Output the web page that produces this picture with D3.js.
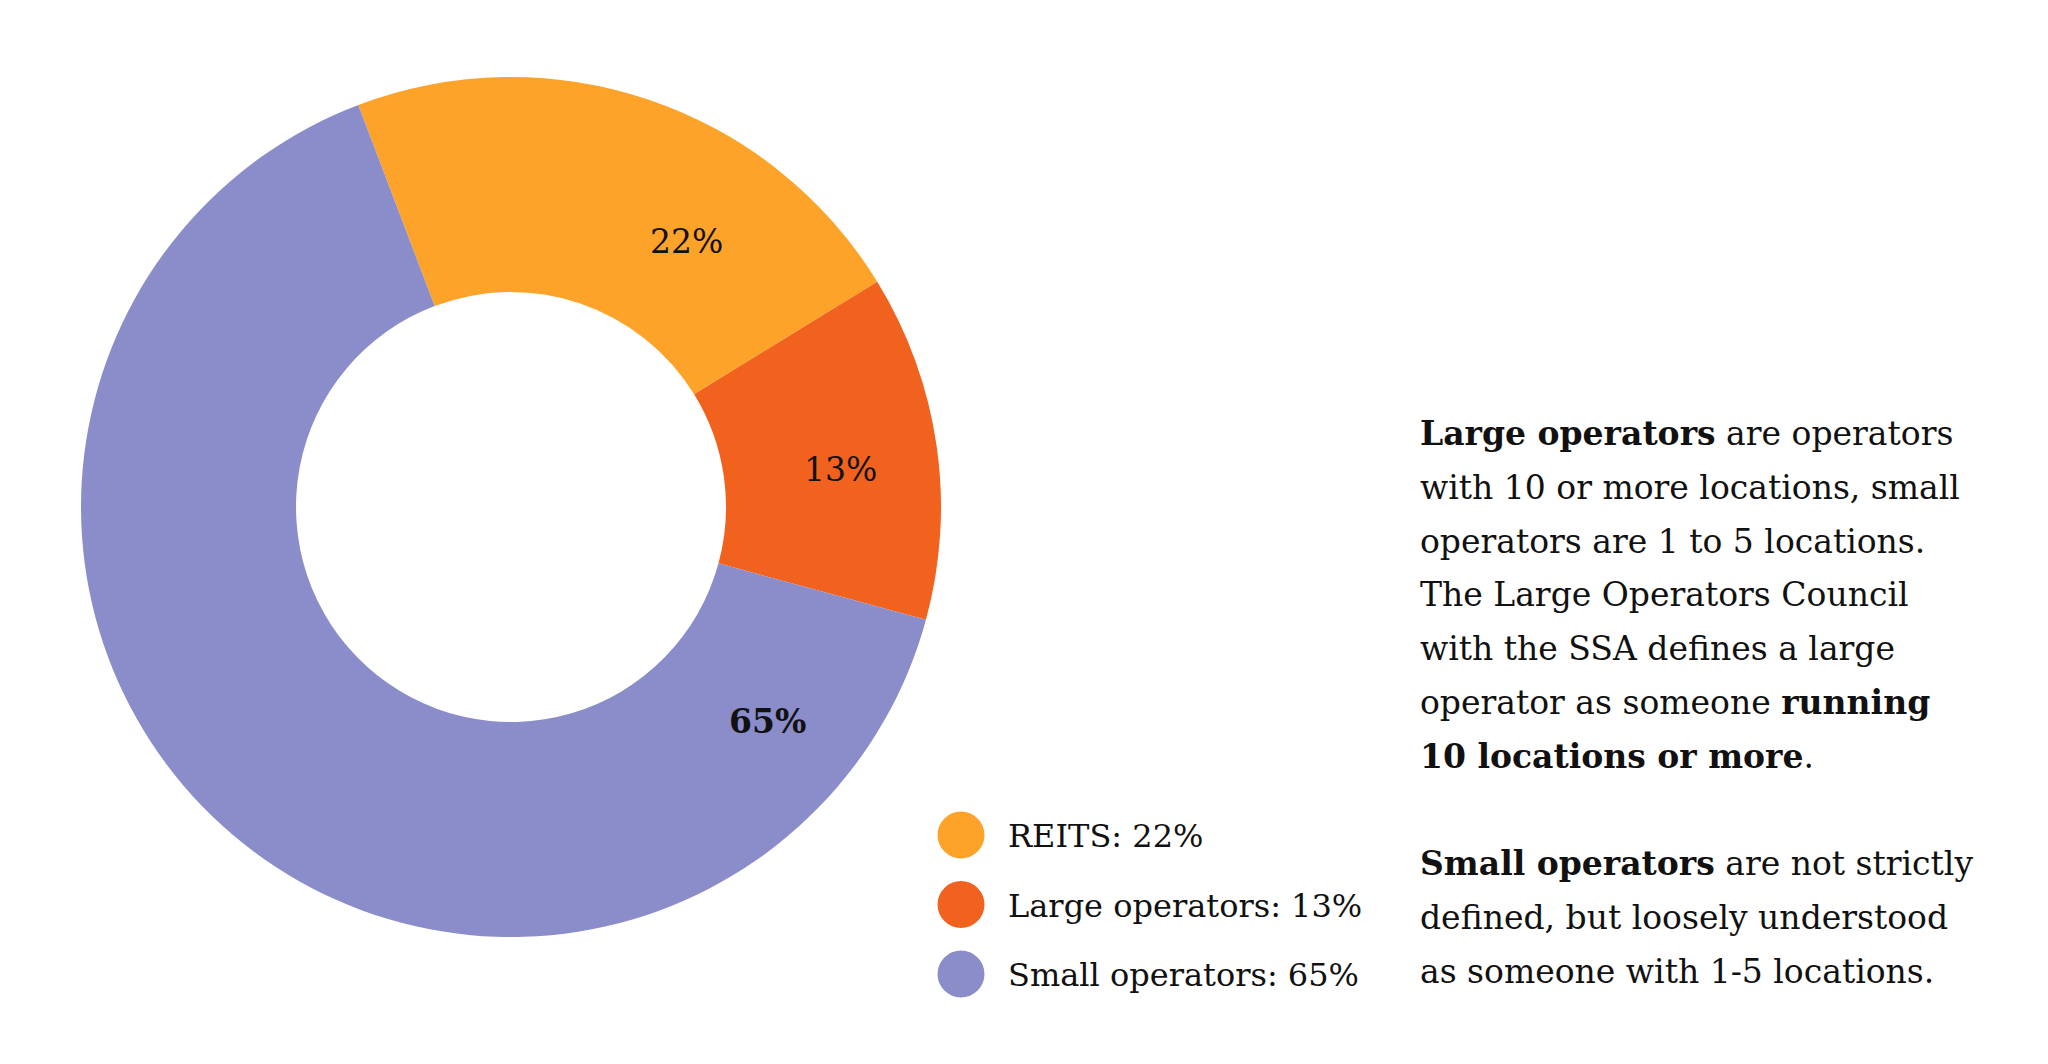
<!DOCTYPE html>
<html>
<head>
<meta charset="utf-8">
<script src="https://cdn.jsdelivr.net/npm/d3@7"></script>
<style>
  html, body { margin: 0; padding: 0; background: #fff; }
  svg { display: block; }
  text { font-family: "DejaVu Serif", "Liberation Serif", serif; fill: #111; }
</style>
</head>
<body>
<svg id="chart" width="2048" height="1064"></svg>
<script>
// ---- data ----
const categories = ["REITS", "Large operators", "Small operators"];
const shares = [22, 13, 65];
const colors = ["#FEA329", "#F1621E", "#8B8DCB"];
const boldLabel = [false, false, true];

// ---- layout ----
const W = 2048, H = 1064;
const cx = 511, cy = 507, outerR = 430, innerR = 215;
const startDeg = -20.8;
const labelDeg = [33.4, 83.4, 129.8];   // manual label placement (degrees clockwise from top)
const labelR = [319, 332, 334];
const fontSize = 33;
const legendFontSize = 32;

const svg = d3.select("#chart");
const g = svg.append("g").attr("transform", `translate(${cx},${cy})`);

const toRad = d => d * Math.PI / 180;
const pie = d3.pie().sort(null).value(d => d)
  .startAngle(toRad(startDeg)).endAngle(toRad(startDeg + 360));
const arcs = pie(shares);
const arc = d3.arc().innerRadius(innerR).outerRadius(outerR);

g.selectAll("path.slice").data(arcs).join("path")
  .attr("class", "slice")
  .attr("d", arc)
  .attr("fill", (d, i) => colors[i]);

g.selectAll("text.lbl").data(arcs).join("text")
  .attr("class", "lbl")
  .attr("x", (d, i) => labelR[i] * Math.sin(toRad(labelDeg[i])))
  .attr("y", (d, i) => -labelR[i] * Math.cos(toRad(labelDeg[i])) + 12)
  .attr("text-anchor", "middle")
  .attr("font-size", fontSize)
  .attr("font-weight", (d, i) => boldLabel[i] ? "bold" : "normal")
  .text(d => d.data + "%");

// ---- legend ----
const step = 69.5;
const legend = svg.append("g").attr("transform", "translate(961,835)");
const items = legend.selectAll("g.item").data(categories).join("g")
  .attr("class", "item")
  .attr("transform", (d, i) => `translate(0,${i * step})`);
items.append("circle").attr("r", 23.5).attr("fill", (d, i) => colors[i]);
items.append("text")
  .attr("x", 47)
  .attr("y", 12)
  .attr("font-size", legendFontSize)
  .text((d, i) => `${d}: ${shares[i]}%`);

// ---- annotation text ----
const note = [
  [["Large operators", true], [" are operators", false]],
  [["with 10 or more locations, small", false]],
  [["operators are 1 to 5 locations.", false]],
  [["The Large Operators Council", false]],
  [["with the SSA defines a large", false]],
  [["operator as someone ", false], ["running", true]],
  [["10 locations or more", true], [".", false]],
  [],
  [["Small operators", true], [" are not strictly", false]],
  [["defined, but loosely understood", false]],
  [["as someone with 1-5 locations.", false]]
];
const noteX = 1420, noteY0 = 445, lineH = 53.8;
const noteG = svg.append("g");
note.forEach((line, li) => {
  if (!line.length) return;
  const t = noteG.append("text")
    .attr("x", noteX)
    .attr("y", noteY0 + li * lineH)
    .attr("font-size", fontSize);
  line.forEach(([s, b]) => {
    t.append("tspan").attr("font-weight", b ? "bold" : "normal").text(s);
  });
});
</script>
</body>
</html>
